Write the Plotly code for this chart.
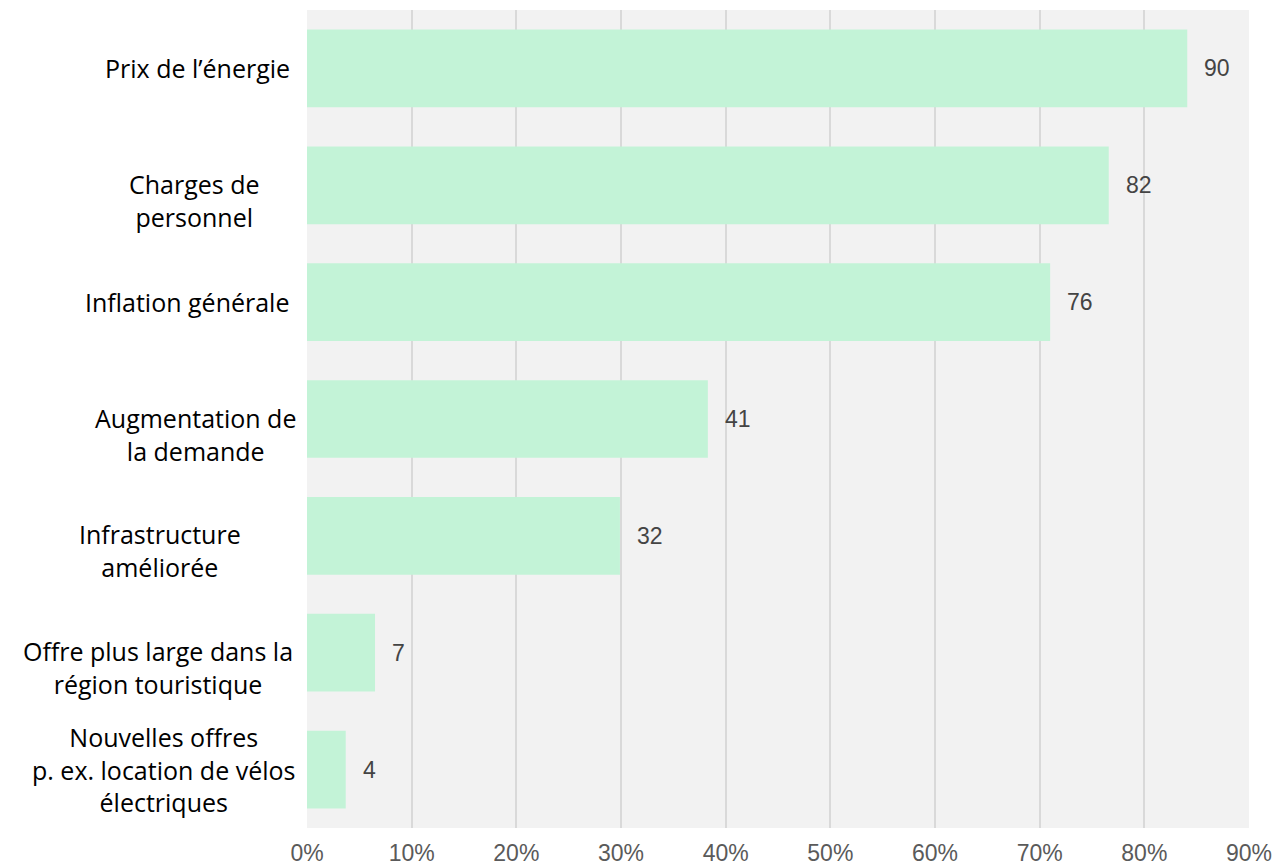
import plotly.graph_objects as go

categories = [
    "Prix de l’énergie",
    "Charges de<br>personnel",
    "Inflation générale",
    "Augmentation de<br>la demande",
    "Infrastructure<br>améliorée",
    "Offre plus large dans la<br>région touristique",
    "Nouvelles offres<br>p. ex. location de vélos<br>électriques",
]
percent = [84.1, 76.6, 71.0, 38.3, 29.9, 6.5, 3.7]
counts = [90, 82, 76, 41, 32, 7, 4]
x_ticks = [0, 10, 20, 30, 40, 50, 60, 70, 80, 90]

# style: horizontal offsets (px) of each category label's right edge from the axis
label_xshift = [-15, -45, -16, -9, -64, -12, -10]

LABEL_SIZE = 25
LINE_H = 1.2 * LABEL_SIZE

fig = go.Figure(
    go.Bar(
        x=percent,
        y=categories,
        orientation="h",
        marker=dict(color="#c3f3d7", line=dict(width=0)),
        hoverinfo="skip",
    )
)

ann = []
for c, p, n in zip(categories, percent, counts):
    ann.append(dict(
        x=p, y=c, xref="x", yref="y", text=str(n), showarrow=False,
        xanchor="left", yanchor="middle", xshift=15,
        font=dict(family="Liberation Sans, Arial, sans-serif", size=23, color="#444444"),
    ))
for c, xs in zip(categories, label_xshift):
    nlines = c.count("<br>") + 1
    ys = -LINE_H / 2 if nlines % 2 == 0 else 0
    ann.append(dict(
        x=0, y=c, xref="x", yref="y", text=c, showarrow=False,
        xanchor="right", yanchor="middle", align="center", xshift=xs, yshift=ys,
        font=dict(family="Open Sans, sans-serif", size=LABEL_SIZE, color="#000000"),
    ))

fig.update_layout(
    width=1276, height=868,
    margin=dict(l=307, r=27, t=10, b=40, autoexpand=False),
    paper_bgcolor="white",
    plot_bgcolor="#f2f2f2",
    bargap=0.335,
    showlegend=False,
    annotations=ann,
    xaxis=dict(
        range=[0, 90],
        tickvals=x_ticks,
        ticktext=[f"{t}%" for t in x_ticks],
        showgrid=True, gridcolor="#d9d9d9", gridwidth=2,
        zeroline=False, showline=False, automargin=False,
        ticks="", ticklabelstandoff=9,
        tickfont=dict(family="Liberation Sans, Arial, sans-serif", size=23, color="#5a5a5a"),
        fixedrange=True,
    ),
    yaxis=dict(
        autorange="reversed",
        showticklabels=False, automargin=False,
        showgrid=False, zeroline=False, showline=False, ticks="",
        fixedrange=True,
    ),
)

fig.write_html(
    "out.html",
    config={"displayModeBar": False},
    post_script="document.body.style.margin='0';document.body.style.overflow='hidden';",
)
